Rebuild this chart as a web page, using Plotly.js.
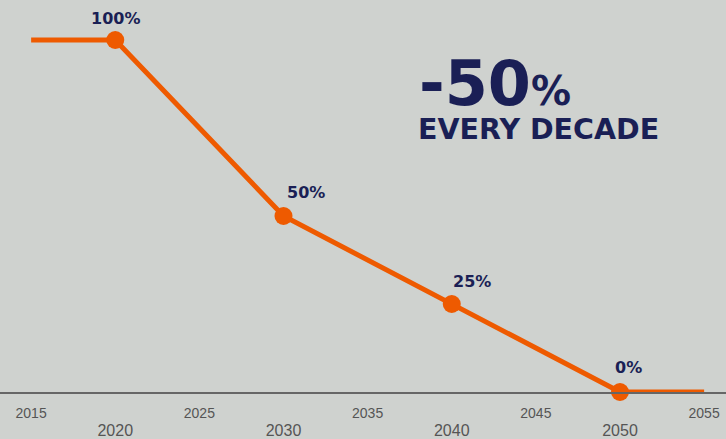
<!DOCTYPE html>
<html><head><meta charset="utf-8">
<script src="https://cdn.plot.ly/plotly-3.0.1.min.js"></script>
<style>html,body{margin:0;padding:0;background:#cfd2cf;}</style>
</head><body>
<div id="chart" style="width:726px;height:439px;"></div>
<script>
// Data
const years = [2015, 2020, 2030, 2040, 2050, 2055];
const share = [100, 100, 50, 25, 0, 0];
const markerYears = [2020, 2030, 2040, 2050];
const markerShare = [100, 50, 25, 0];
const pointLabels = ['100%', '50%', '25%', '0%'];
const tickYears = [2015, 2020, 2025, 2030, 2035, 2040, 2045, 2050, 2055];
const headline = '-50';
const subline = 'EVERY DECADE';

// label placement (styling, not data)
const labelShift = [[0, 21], [22, 23], [20, 23], [8, 25]];

const orange = '#ee5a00';
const navy = '#1a1f55';

const ticktext = tickYears.map(y => (y % 10 === 0)
  ? '<br><span style="font-size:16px">' + y + '</span>'
  : String(y));

const annotations = markerYears.map((x, i) => ({
  x: x, y: markerShare[i], xref: 'x', yref: 'y',
  text: '<b>' + pointLabels[i] + '</b>', showarrow: false,
  xshift: labelShift[i][0], yshift: labelShift[i][1],
  font: {family: '"DejaVu Sans", sans-serif', size: 16, color: navy}
}));
annotations.push({
  xref: 'paper', yref: 'paper', x: 0.574, y: 0.688, xanchor: 'left', yanchor: 'bottom',
  text: '<b><span style="font-size:62px">' + headline + '</span><span style="font-size:40px">%</span></b>',
  showarrow: false, font: {family: '"DejaVu Sans", sans-serif', color: navy}
});
annotations.push({
  xref: 'paper', yref: 'paper', x: 0.573, y: 0.622, xanchor: 'left', yanchor: 'bottom',
  text: '<b>' + subline + '</b>', showarrow: false,
  font: {family: '"DejaVu Sans", sans-serif', size: 28.5, color: navy}
});

const data = [
  {x: years, y: share, mode: 'lines', line: {color: orange, width: 5}, hoverinfo: 'skip', cliponaxis: false},
  {x: markerYears, y: markerShare, mode: 'markers', marker: {color: orange, size: 18}, cliponaxis: false}
];

const layout = {
  width: 726, height: 439,
  paper_bgcolor: '#cfd2cf', plot_bgcolor: '#cfd2cf',
  margin: {l: 0, r: 0, t: 0, b: 47},
  showlegend: false,
  xaxis: {
    range: [2013.15, 2056.3], tickvals: tickYears, ticktext: ticktext,
    showgrid: false, zeroline: false, showline: true, linecolor: '#666', linewidth: 2,
    ticks: '', tickfont: {family: '"Liberation Sans", Arial, sans-serif', size: 14, color: '#555'},
    ticklabelstandoff: 7
  },
  yaxis: {range: [0, 111.36], visible: false, showgrid: false, zeroline: false},
  annotations: annotations
};

Plotly.newPlot('chart', data, layout, {displayModeBar: false, staticPlot: true});
</script>
</body></html>
